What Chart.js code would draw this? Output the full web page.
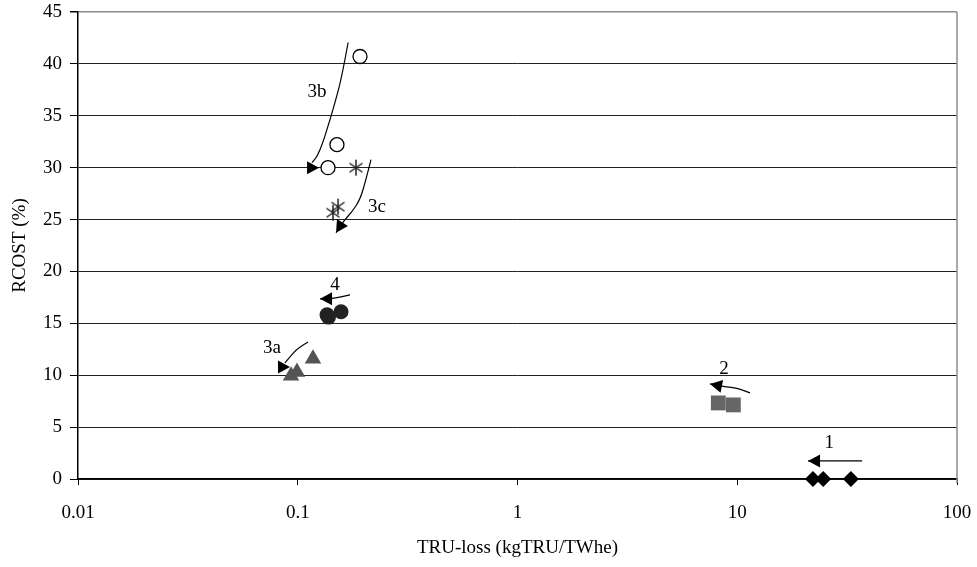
<!DOCTYPE html>
<html lang="en">
<head>
  <meta charset="UTF-8" />
  <title>RCOST vs TRU-loss</title>
  <script src="https://cdn.jsdelivr.net/npm/chart.js"></script>
  <style>
    html, body { margin: 0; padding: 0; background: #fff; }
    #wrap { width: 977px; height: 567px; }
  </style>
</head>
<body>
  <div id="wrap"><canvas id="chart"></canvas></div>

  <script>
    // data: [TRU-loss, RCOST]
    const case1 = [[22.1, 0], [24.6, 0], [32.9, 0]];
    const case2 = [[8.2, 7.33], [9.6, 7.14]];
    const case3a = [[0.0932, 9.94], [0.0992, 10.32], [0.1173, 11.58]];
    const case3b = [[0.192, 40.71], [0.1508, 32.22], [0.1373, 30.0]];
    const case3c = [[0.1841, 30.0], [0.1525, 26.24], [0.1446, 25.66]];
    const case4 = [[0.1359, 15.82], [0.1380, 15.6], [0.1574, 16.11]];

    const xTicks = [0.01, 0.1, 1, 10, 100];
    const xTickLabels = ['0.01', '0.1', '1', '10', '100'];
    const yTicks = [0, 5, 10, 15, 20, 25, 30, 35, 40, 45];

    // annotation arrows, in data coordinates
    const arrows = [
      { label: '1', at: [26.2, 3.47], path: [[37.0, 1.74], [21.0, 1.74]] },
      { label: '2', at: [8.7, 10.6], path: [[11.43, 8.3], [9.97, 8.78], [8.8, 8.87], [7.52, 9.16]] },
      { label: '3a', at: [0.0763, 12.64], path: [[0.1115, 13.2], [0.1002, 12.64], [0.0922, 11.77], [0.0874, 11.19]], head: [0.0922, 10.8], angle: 0 },
      { label: '3b', at: [0.1223, 37.33], path: [[0.1695, 42.06], [0.1589, 38.78], [0.1477, 36.27], [0.1402, 34.63], [0.1302, 32.41], [0.1223, 31.06], [0.1161, 30.48]], head: [0.125, 30.0], angle: 0 },
      { label: '3c', at: [0.2294, 26.24], path: [[0.2154, 30.77], [0.2044, 28.84], [0.192, 26.91], [0.1766, 25.75], [0.1607, 24.79], [0.1494, 23.73]] },
      { label: '4', at: [0.1477, 18.71], path: [[0.1729, 17.75], [0.1446, 17.36], [0.1263, 17.36]] }
    ];

    const toXY = arr => arr.map(p => ({ x: p[0], y: p[1] }));
    const FONT = 'Liberation Serif, Times New Roman, serif';

    // asterisk marker (vertical bar + X)
    const star = document.createElement('canvas');
    star.width = 18; star.height = 18;
    (function () {
      const c = star.getContext('2d');
      c.strokeStyle = '#222';
      c.lineWidth = 1.5;
      c.beginPath();
      c.moveTo(9, 1); c.lineTo(9, 17);
      c.moveTo(2.5, 4.5); c.lineTo(15.5, 13.5);
      c.moveTo(15.5, 4.5); c.lineTo(2.5, 13.5);
      c.stroke();
    })();

    const arrowPlugin = {
      id: 'arrows',
      afterDatasetsDraw(chart) {
        const ctx = chart.ctx;
        const xs = chart.scales.x, ys = chart.scales.y;
        const px = p => [xs.getPixelForValue(p[0]), ys.getPixelForValue(p[1])];
        ctx.save();
        ctx.strokeStyle = '#000';
        ctx.fillStyle = '#000';
        ctx.lineWidth = 1.2;
        arrows.forEach(a => {
          const pts = a.path.map(px);
          ctx.beginPath();
          ctx.moveTo(pts[0][0], pts[0][1]);
          if (pts.length === 2) {
            ctx.lineTo(pts[1][0], pts[1][1]);
          } else {
            for (let i = 1; i < pts.length - 1; i++) {
              const mx = (pts[i][0] + pts[i + 1][0]) / 2;
              const my = (pts[i][1] + pts[i + 1][1]) / 2;
              ctx.quadraticCurveTo(pts[i][0], pts[i][1], mx, my);
            }
            const last = pts[pts.length - 1];
            ctx.lineTo(last[0], last[1]);
          }
          ctx.stroke();

          // arrow head
          let tip, ang;
          if (a.head) {
            tip = px(a.head);
            ang = a.angle * Math.PI / 180;
          } else {
            tip = pts[pts.length - 1];
            const prev = pts[pts.length - 2];
            ang = Math.atan2(tip[1] - prev[1], tip[0] - prev[0]);
          }
          const L = 12, W = 6.5;
          const bx = tip[0] - L * Math.cos(ang), by = tip[1] - L * Math.sin(ang);
          ctx.beginPath();
          ctx.moveTo(tip[0], tip[1]);
          ctx.lineTo(bx - W * Math.sin(ang), by + W * Math.cos(ang));
          ctx.lineTo(bx + W * Math.sin(ang), by - W * Math.cos(ang));
          ctx.closePath();
          ctx.fill();

          // label
          const lp = px(a.at);
          ctx.font = '19px ' + FONT;
          ctx.textAlign = 'center';
          ctx.textBaseline = 'middle';
          ctx.fillText(a.label, lp[0], lp[1]);
        });

        // right border
        const area = chart.chartArea;
        ctx.strokeStyle = '#8c8c8c';
        ctx.lineWidth = 1.5;
        ctx.beginPath();
        ctx.moveTo(area.right, area.top);
        ctx.lineTo(area.right, area.bottom + 4);
        ctx.stroke();
        ctx.restore();
      }
    };

    Chart.defaults.font.family = FONT;
    Chart.defaults.color = '#000';

    new Chart(document.getElementById('chart'), {
      type: 'scatter',
      data: {
        datasets: [
          { label: '1', data: toXY(case1), clip: false, pointStyle: 'rectRot', pointRadius: 8, backgroundColor: '#000', borderColor: '#000', borderWidth: 0 },
          { label: '2', data: toXY(case2), clip: false, pointStyle: 'rect', pointRadius: 10.5, backgroundColor: '#666', borderColor: '#666', borderWidth: 0 },
          { label: '3a', data: toXY(case3a), clip: false, pointStyle: 'triangle', pointRadius: 9.5, backgroundColor: '#555', borderColor: '#555', borderWidth: 0 },
          { label: '3b', data: toXY(case3b), clip: false, pointStyle: 'circle', pointRadius: 7, backgroundColor: '#fff', borderColor: '#000', borderWidth: 1.3 },
          { label: '3c', data: toXY(case3c), clip: false, pointStyle: star, pointRadius: 9 },
          { label: '4', data: toXY(case4), clip: false, pointStyle: 'circle', pointRadius: 7.5, backgroundColor: '#222', borderColor: '#222', borderWidth: 0 }
        ]
      },
      options: {
        responsive: true,
        maintainAspectRatio: false,
        animation: false,
        events: [],
        layout: { padding: { top: 12, right: 20, left: 0, bottom: 0 } },
        plugins: { legend: { display: false }, tooltip: { enabled: false } },
        scales: {
          x: {
            type: 'logarithmic',
            min: xTicks[0],
            max: xTicks[xTicks.length - 1],
            afterBuildTicks: s => { s.ticks = xTicks.map(v => ({ value: v })); },
            afterFit: s => { s.height = 88; s.paddingLeft = 0; s.paddingRight = 0; },
            ticks: {
              autoSkip: false,
              maxRotation: 0,
              padding: 17,
              font: { size: 19 },
              callback: (v) => xTickLabels[xTicks.indexOf(v)] ?? ''
            },
            grid: { drawOnChartArea: false, drawTicks: true, tickLength: 6, tickColor: '#000' },
            border: { display: true, color: '#000', width: 1.5 },
            title: { display: true, text: 'TRU-loss (kgTRU/TWhe)', font: { size: 19 }, padding: { top: 4, bottom: 8 } }
          },
          y: {
            min: 0,
            max: 45,
            afterBuildTicks: s => { s.ticks = yTicks.map(v => ({ value: v })); },
            afterFit: s => { s.width = 78; s.paddingTop = 0; s.paddingBottom = 0; },
            ticks: { padding: 8, font: { size: 19 } },
            grid: {
              color: ctx => ctx.tick && ctx.tick.value === 45 ? '#8c8c8c' : '#222',
              lineWidth: ctx => ctx.tick && ctx.tick.value === 45 ? 1.5 : 1,
              tickLength: 8,
              tickColor: '#000'
            },
            border: { display: true, color: '#000', width: 1.5 },
            title: { display: true, text: 'RCOST (%)', font: { size: 19 }, padding: { top: 9, bottom: 4 } }
          }
        }
      },
      plugins: [arrowPlugin]
    });
  </script>
</body>
</html>
